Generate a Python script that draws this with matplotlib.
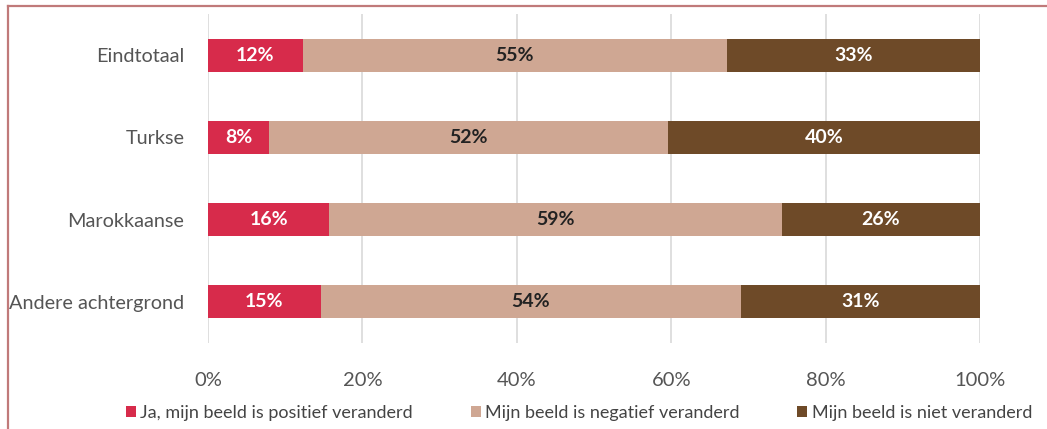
import numpy as np
import matplotlib.pyplot as plt
from matplotlib.lines import Line2D
from matplotlib.patches import Patch

categories = ["Eindtotaal", "Turkse", "Marokkaanse", "Andere achtergrond"]
positief = [12.3, 7.9, 15.7, 14.6]
negatief = [54.9, 51.7, 58.6, 54.4]
niet = [32.8, 40.4, 25.7, 31.0]
series_names = ["Ja, mijn beeld is positief veranderd",
                "Mijn beeld is negatief veranderd",
                "Mijn beeld is niet veranderd"]
colors = ["#d72b4b", "#cfa793", "#6e4a28"]
label_colors = ["white", "#222222", "white"]

plt.rcParams["font.family"] = ["Lato", "DejaVu Sans"]

fig = plt.figure(figsize=(10.47, 4.29), dpi=100)
ax = fig.add_axes([208 / 1047, 1 - 343 / 429, (980 - 208) / 1047, (343 - 14) / 429])

y = np.arange(len(categories))
left = np.zeros(len(categories))
for vals, col, tcol in zip([positief, negatief, niet], colors, label_colors):
    vals = np.array(vals, dtype=float)
    ax.barh(y, vals, left=left, height=0.4, color=col, zorder=3)
    for yi, l, v in zip(y, left, vals):
        ax.text(l + v / 2, yi, f"{int(v + 0.5)}%", ha="center", va="center",
                color=tcol, fontsize=14, fontweight="bold", zorder=4)
    left += vals

ax.set_xlim(0, 100)
ax.set_ylim(len(categories) - 0.5, -0.5)
ax.set_yticks(y)
ax.set_yticklabels(categories, fontsize=14.3, color="#555555")
ax.set_xticks(range(0, 101, 20))
ax.set_xticklabels([f"{t}%" for t in range(0, 101, 20)], fontsize=14.5, color="#555555")
ax.tick_params(length=0)
ax.tick_params(axis="y", pad=17)
ax.tick_params(axis="x", pad=21)
ax.grid(axis="x", color="#d9d9d9", linewidth=1.2, zorder=0)
for s in ax.spines.values():
    s.set_visible(False)

handles = [Patch(facecolor=c, edgecolor="none") for c in colors]
fig.legend(handles, series_names, loc="center", bbox_to_anchor=(0.553, 0.037),
           ncol=3, frameon=False, fontsize=13, handlelength=0.55, handleheight=0.55,
           handletextpad=0.25, columnspacing=3.2, labelcolor="#444444")

# outer frame (top and left edges visible)
fig.add_artist(Line2D([8 / 1047, 1], [1 - 6 / 429, 1 - 6 / 429], color="#c07a7a", lw=1.6))
fig.add_artist(Line2D([8 / 1047, 8 / 1047], [0, 1 - 6 / 429], color="#c07a7a", lw=1.6))

fig.savefig("out.png", dpi=100)
